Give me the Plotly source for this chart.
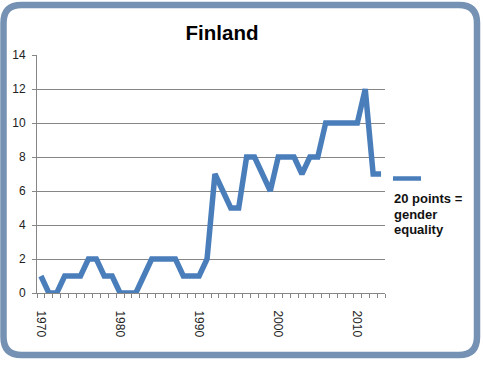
import plotly.graph_objects as go

years = list(range(1970, 2014))
scores = [1, 0, 0, 1, 1, 1, 2, 2, 1, 1,
          0, 0, 0, 1, 2, 2, 2, 2, 1, 1,
          1, 2, 7, 6, 5, 5, 8, 8, 7, 6,
          8, 8, 8, 7, 8, 8, 10, 10, 10, 10,
          10, 12, 7, 7]
tick_years = [1970, 1980, 1990, 2000, 2010]
tick_labels = ["1970", "1980", "1990", "2000", "2010"]
y_ticks = [0, 2, 4, 6, 8, 10, 12, 14]
title_text = "Finland"
legend_lines = ["20 points =", "gender", "equality"]

W, H = 483, 370
L, R, T, B = 37, 385, 55, 293
PW, PH = R - L, B - T

def px(x):
    return (x - L) / PW

def py(y):
    return (B - y) / PH

LINE_BLUE = "#4A7EBB"
GRID = "#868686"
FRAME = "#7591B3"

fig = go.Figure()
fig.add_trace(go.Scatter(
    x=years, y=scores, mode="lines",
    line=dict(color=LINE_BLUE, width=5.5),
    showlegend=False, hoverinfo="skip"))

# rounded frame
x1, x2, y1, y2, r = 3.5, 477, 5, 355, 18
pts = [
    ("M", x1 + r, y1), ("L", x2 - r, y1), ("Q", x2, y1, x2, y1 + r),
    ("L", x2, y2 - r), ("Q", x2, y2, x2 - r, y2),
    ("L", x1 + r, y2), ("Q", x1, y2, x1, y2 - r),
    ("L", x1, y1 + r), ("Q", x1, y1, x1 + r, y1),
]
path = ""
for p in pts:
    cmd = p[0]
    coords = p[1:]
    s = []
    for i in range(0, len(coords), 2):
        s.append(f"{px(coords[i]):.5f},{py(coords[i+1]):.5f}")
    path += cmd + " " + " ".join(s) + " "
path += "Z"

shapes = [
    dict(type="path", xref="paper", yref="paper", path=path,
         line=dict(color=FRAME, width=6.5), fillcolor="rgba(0,0,0,0)", layer="above"),
    dict(type="line", xref="paper", yref="paper",
         x0=px(393), x1=px(421), y0=py(178.5), y1=py(178.5),
         line=dict(color=LINE_BLUE, width=4.5)),
]

annotations = []
for i, t in enumerate(legend_lines):
    annotations.append(dict(
        text=f"<b>{t}</b>", xref="paper", yref="paper",
        x=px(392), y=py(198.5 + i * 15.5), xanchor="left", yanchor="middle",
        showarrow=False, font=dict(family="Liberation Sans, Arial", size=13, color="#111")))

fig.update_layout(
    width=W, height=H,
    margin=dict(l=L, r=W - R, t=T, b=H - B),
    paper_bgcolor="white", plot_bgcolor="white",
    title=dict(text=f"<b>{title_text}</b>", xref="paper", x=px(222), xanchor="center",
               yref="container", y=1 - 33 / H, yanchor="middle",
               font=dict(family="Liberation Sans, Arial", size=20.5, color="#000")),
    shapes=shapes, annotations=annotations,
    xaxis=dict(
        type="linear", range=[1969.5, 2013.5],
        tickmode="array", tickvals=tick_years, ticktext=tick_labels,
        tickangle=90, ticks="", showgrid=False, zeroline=False,
        showline=True, linecolor=GRID, linewidth=1,
        ticklabelstandoff=14,
        tickfont=dict(family="Liberation Sans, Arial", size=12, color="#222"),
        minor=dict(ticks="outside", tick0=1969.5, dtick=1, ticklen=4,
                   tickcolor=GRID, showgrid=False),
    ),
    yaxis=dict(
        range=[0, 14], tickmode="array", tickvals=y_ticks,
        ticks="outside", ticklen=4, tickcolor=GRID,
        showgrid=True, gridcolor=GRID, gridwidth=1,
        zeroline=False, showline=True, linecolor=GRID, linewidth=1,
        ticklabelstandoff=4,
        tickfont=dict(family="Liberation Sans, Arial", size=12, color="#222"),
    ),
)

fig.write_html("out.html", config={"displayModeBar": False},
               post_script="document.body.style.margin='0';document.body.style.overflow='hidden';")
